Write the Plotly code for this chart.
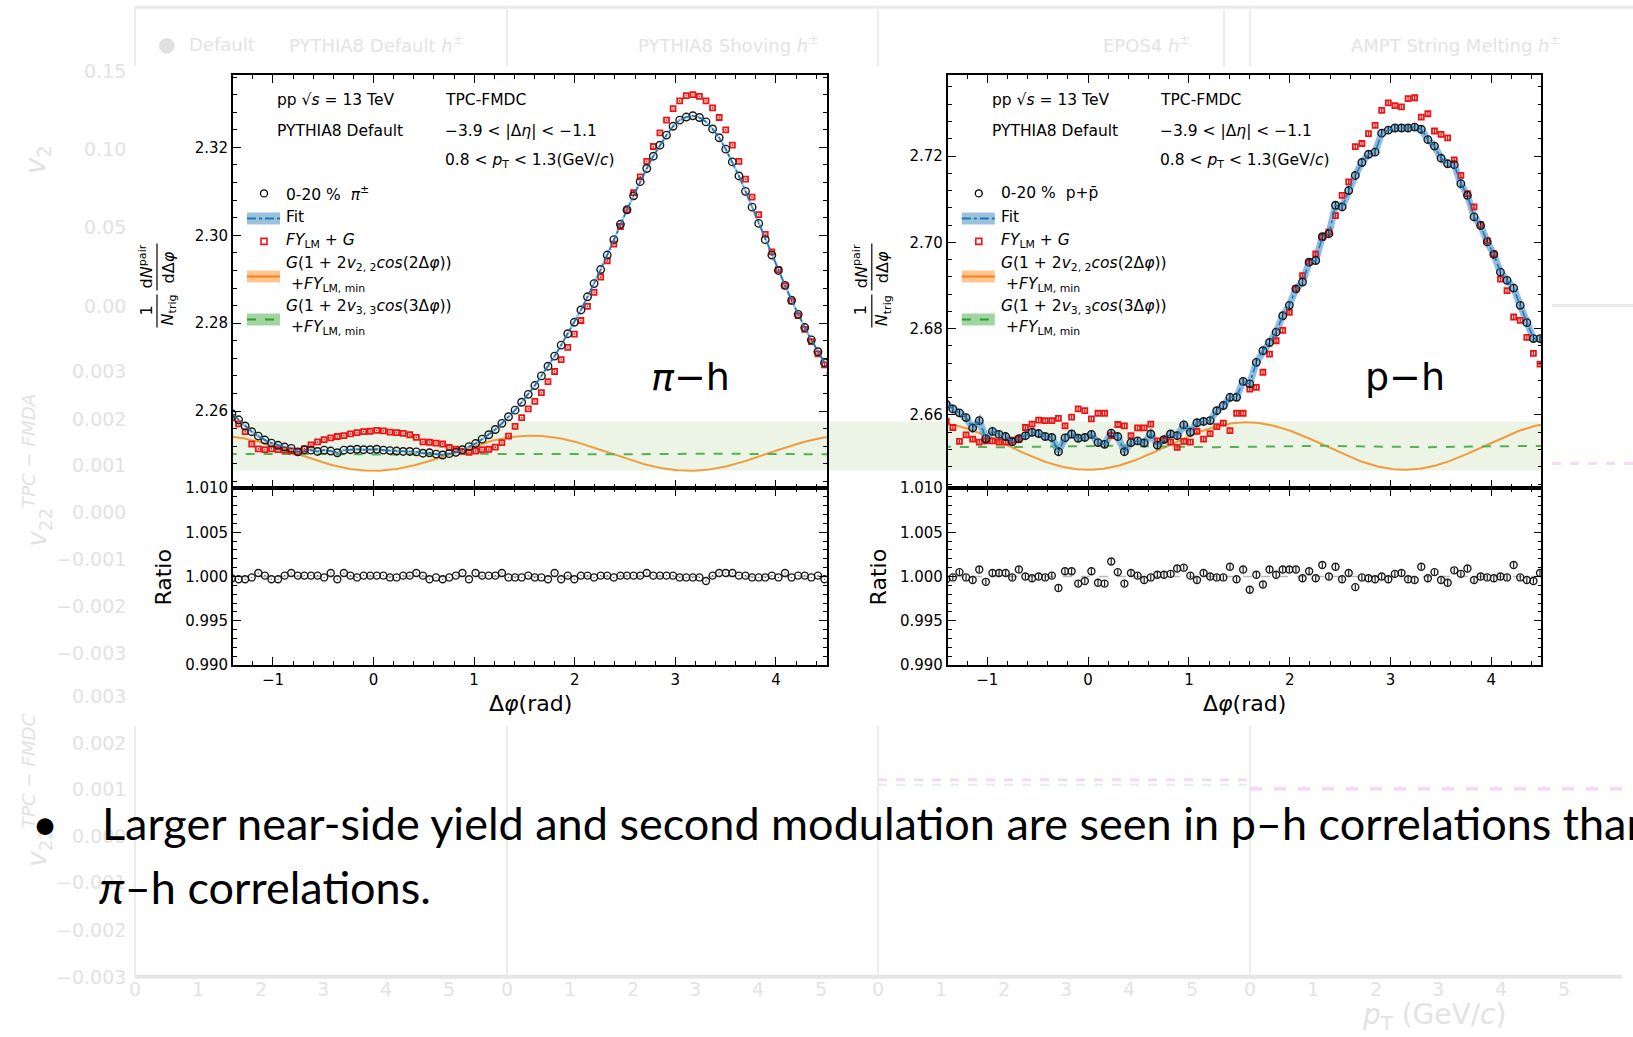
import numpy as np
import plotly.graph_objects as go

W, H = 1633, 1037

# ---------------- data ----------------
bin_width = 2 * np.pi / 96
dphi = -np.pi / 2 + (np.arange(2, 94) + 0.5) * bin_width   # bin centres

pi_yield = [
    2.2594, 2.2580, 2.2566, 2.2553, 2.2543, 2.2534, 2.2527, 2.2522, 2.2518, 2.2515,
    2.2507, 2.2512, 2.2511, 2.2508, 2.2511, 2.2509, 2.2505, 2.2511, 2.2512, 2.2513,
    2.2512, 2.2512, 2.2513, 2.2511, 2.2510, 2.2509, 2.2508, 2.2508, 2.2507, 2.2504,
    2.2505, 2.2502, 2.2500, 2.2503, 2.2506, 2.2512, 2.2519, 2.2526, 2.2536, 2.2546,
    2.2558, 2.2572, 2.2587, 2.2602, 2.2620, 2.2638, 2.2658, 2.2680, 2.2702, 2.2725,
    2.2750, 2.2776, 2.2802, 2.2830, 2.2860, 2.2890, 2.2922, 2.2955, 2.2990, 2.3025,
    2.3058, 2.3090, 2.3122, 2.3152, 2.3180, 2.3205, 2.3228, 2.3248, 2.3262, 2.3269,
    2.3272, 2.3268, 2.3258, 2.3242, 2.3222, 2.3196, 2.3167, 2.3135, 2.3100, 2.3064,
    2.3027, 2.2990, 2.2955, 2.2920, 2.2886, 2.2852, 2.2820, 2.2790, 2.2762, 2.2735,
    2.2710, 2.2686]
pi_fylm_g = [
    2.2585, 2.2571, 2.2553, 2.2525, 2.2514, 2.2512, 2.2514, 2.2512, 2.2511, 2.2509,
    2.2507, 2.2514, 2.2523, 2.2530, 2.2535, 2.2539, 2.2542, 2.2544, 2.2548, 2.2551,
    2.2553, 2.2554, 2.2556, 2.2555, 2.2552, 2.2551, 2.2549, 2.2546, 2.2540, 2.2530,
    2.2529, 2.2527, 2.2525, 2.2517, 2.2513, 2.2508, 2.2506, 2.2509, 2.2512, 2.2513,
    2.2518, 2.2528, 2.2543, 2.2565, 2.2585, 2.2605, 2.2622, 2.2642, 2.2667, 2.2690,
    2.2717, 2.2745, 2.2775, 2.2806, 2.2838, 2.2870, 2.2905, 2.2942, 2.2980, 2.3020,
    2.3058, 2.3097, 2.3133, 2.3168, 2.3202, 2.3233, 2.3262, 2.3288, 2.3306, 2.3318,
    2.3320, 2.3316, 2.3306, 2.3290, 2.3268, 2.3240, 2.3205, 2.3168, 2.3128, 2.3087,
    2.3047, 2.3002, 2.2962, 2.2922, 2.2885, 2.2850, 2.2817, 2.2786, 2.2758, 2.2730,
    2.2705, 2.2680]
pi_ratio = [
    0.9998,
    0.9997, 0.9997, 0.9999, 1.0004, 1.0001, 0.9997, 0.9997, 1.0001, 1.0004, 1.0001,
    1.0001, 1.0001, 1.0001, 0.9999, 1.0004, 0.9997, 1.0004, 1.0001, 0.9999, 1.0001,
    1.0001, 1.0001, 1.0001, 0.9999, 0.9999, 1.0001, 1.0001, 1.0004, 1.0001, 0.9997,
    0.9999, 0.9997, 0.9999, 1.0001, 1.0004, 0.9997, 1.0004, 1.0001, 1.0001, 1.0001,
    1.0004, 0.9999, 0.9999, 0.9999, 1.0001, 0.9999, 0.9999, 0.9997, 1.0004, 0.9997,
    1.0001, 0.9997, 1.0001, 1.0001, 0.9999, 1.0001, 1.0001, 0.9999, 1.0001, 1.0001,
    1.0001, 1.0001, 1.0004, 1.0001, 1.0001, 1.0001, 1.0001, 0.9999, 0.9999, 0.9999,
    0.9999, 0.9995, 1.0001, 1.0004, 1.0004, 1.0004, 1.0001, 1.0001, 0.9999, 0.9999,
    0.9999, 1.0001, 0.9999, 1.0004, 0.9999, 1.0001, 1.0001, 0.9999, 1.0001, 0.9997,
    0.9999]

p_yield = [
    2.6625, 2.6614, 2.6605, 2.6594, 2.6570, 2.6587, 2.6545, 2.6562, 2.6555, 2.6550,
    2.6538, 2.6545, 2.6552, 2.6560, 2.6557, 2.6550, 2.6548, 2.6515, 2.6547, 2.6556,
    2.6546, 2.6548, 2.6555, 2.6536, 2.6532, 2.6558, 2.6550, 2.6515, 2.6536, 2.6540,
    2.6535, 2.6556, 2.6530, 2.6543, 2.6556, 2.6552, 2.6577, 2.6560, 2.6582, 2.6585,
    2.6587, 2.6610, 2.6622, 2.6641, 2.6641, 2.6678, 2.6672, 2.6722, 2.6749, 2.6768,
    2.6792, 2.6830, 2.6854, 2.6892, 2.6908, 2.6954, 2.6958, 2.7013, 2.7020, 2.7086,
    2.7082, 2.7120, 2.7155, 2.7185, 2.7204, 2.7209, 2.7253, 2.7260, 2.7265, 2.7265,
    2.7265, 2.7267, 2.7262, 2.7238, 2.7223, 2.7195, 2.7182, 2.7180, 2.7136, 2.7109,
    2.7059, 2.7039, 2.7001, 2.6972, 2.6931, 2.6912, 2.6894, 2.6854, 2.6814, 2.6777,
    2.6777, 2.6760]
p_fylm_g = [
    2.6585, 2.6571, 2.6539, 2.6554, 2.6544, 2.6537, 2.6540, 2.6540, 2.6537, 2.6537,
    2.6542, 2.6544, 2.6571, 2.6579, 2.6588, 2.6587, 2.6587, 2.6592, 2.6575, 2.6595,
    2.6614, 2.6610, 2.6591, 2.6604, 2.6604, 2.6552, 2.6578, 2.6575, 2.6552, 2.6570,
    2.6570, 2.6579, 2.6540, 2.6543, 2.6537, 2.6525, 2.6539, 2.6537, 2.6562, 2.6544,
    2.6557, 2.6573, 2.6581, 2.6564, 2.6604, 2.6604, 2.6660, 2.6664, 2.6699, 2.6741,
    2.6772, 2.6796, 2.6838, 2.6892, 2.6923, 2.6954, 2.6973, 2.7012, 2.7024, 2.7062,
    2.7109, 2.7140, 2.7222, 2.7229, 2.7252, 2.7271, 2.7306, 2.7323, 2.7317, 2.7314,
    2.7333, 2.7335, 2.7290, 2.7298, 2.7258, 2.7250, 2.7242, 2.7191, 2.7155, 2.7113,
    2.7082, 2.7041, 2.7004, 2.6973, 2.6915, 2.6888, 2.6827, 2.6819, 2.6780, 2.6743,
    2.6718, 2.6700]
p_ratio = [
    0.9997, 0.9999, 1.0005, 0.9999, 0.9996, 1.0008, 0.9994, 1.0004, 1.0004, 1.0004,
    0.9999, 1.0008, 1.0000, 0.9998, 1.0000, 0.9999, 1.0001, 0.9987, 1.0006, 1.0006,
    0.9992, 0.9995, 1.0006, 0.9993, 0.9992, 1.0017, 1.0005, 0.9992, 1.0004, 1.0001,
    0.9996, 0.9999, 1.0002, 1.0002, 1.0003, 1.0009, 1.0010, 1.0001, 0.9996, 1.0004,
    1.0000, 0.9999, 0.9999, 1.0011, 0.9997, 1.0008, 0.9985, 1.0002, 0.9991, 1.0008,
    1.0002, 1.0008, 1.0008, 1.0008, 0.9998, 1.0006, 0.9998, 1.0013, 1.0000, 1.0011,
    0.9997, 1.0004, 0.9988, 0.9999, 0.9998, 0.9997, 1.0000, 0.9997, 1.0003, 1.0004,
    0.9997, 0.9996, 1.0011, 0.9998, 1.0005, 0.9996, 0.9993, 1.0007, 1.0003, 1.0009,
    0.9996, 1.0000, 0.9999, 0.9998, 1.0000, 0.9999, 1.0013, 0.9999, 0.9996, 0.9995,
    1.0004, 1.0000]

pi_err, pi_red_err = 0.00010, 0.00020
p_err, p_red_err, p_ratio_err = 0.0008, 0.0005, 0.0003

# modulation curves G(1+2v cos(nΔφ)) + FY_LM,min : (mean, amplitude)
pi_v2 = (2.2504, -0.0040)
pi_v3 = (2.2502, -0.0001)
p_v2 = (2.6528, -0.0055)
p_v3 = (2.6527, 0.0002)

assert all(len(a) == len(dphi) for a in [pi_yield, pi_fylm_g, pi_ratio, p_yield, p_fylm_g, p_ratio])

phi_fine = np.linspace(-1.45, 4.56, 500)

# ---------------- helpers (pixel -> paper fraction) ----------------
TOP, PAPER_H = 8.7, 1018.5   # measured vertical mapping of the paper area

def PX(x): return x / W
def PY(y): return 1 - (y - TOP) / PAPER_H

BLACK = "black"
ORANGE = "#f39b3c"
GREEN = "#55b155"
BLUE = "#1f77b4"
RED = "#ee1414"
DARK = "#1a1a1a"

fig = go.Figure()
annotations, shapes = [], []

def ann(text, x, y, size, xa="left", ya="middle", color=BLACK, fam="DejaVu Sans", ang=0):
    annotations.append(dict(text=text, x=PX(x), y=PY(y), xref="paper", yref="paper",
                            xanchor=xa, yanchor=ya, showarrow=False, textangle=ang,
                            font=dict(family=fam, size=size, color=color)))

def line(x0, y0, x1, y1, color, width, dash="solid", layer="above"):
    shapes.append(dict(type="line", xref="paper", yref="paper", x0=PX(x0), y0=PY(y0),
                       x1=PX(x1), y1=PY(y1), layer=layer,
                       line=dict(color=color, width=width, dash=dash)))

def rect(x0, y0, x1, y1, fill, lc=None, lw=0, layer="above"):
    shapes.append(dict(type="rect", xref="paper", yref="paper", x0=PX(x0), y0=PY(y0),
                       x1=PX(x1), y1=PY(y1), fillcolor=fill, layer=layer,
                       line=dict(color=lc or fill, width=lw)))

# ---------------- faint background slide ----------------
line(135, 7, 1633, 7, "#e9e9e9", 3, layer="below")
for xv in [135, 507, 878, 1224, 1250]:
    line(xv, 7, xv, 66, "#ececec", 2, layer="below")
for xv in [135, 507, 878, 1250]:
    line(xv, 725, xv, 976, "#ececec", 2, layer="below")
line(135, 976, 1622, 976, "#e6e6e6", 4, layer="below")
line(878, 779, 1250, 779, "#f3dcf3", 3, "dash", layer="below")
line(878, 784, 1250, 784, "#e2efe7", 2, "dash", layer="below")
line(1250, 788, 1625, 788, "#f3dcf3", 4, "dash", layer="below")
line(1552, 305, 1633, 305, "#eaeaea", 3, layer="below")
line(1552, 463, 1633, 463, "#f3dcf3", 3, "dash", layer="below")

ann("●", 166, 44, 20, xa="center", color="#e0e0e0")
ann("Default", 187, 44, 18, color="#e3e3e3")
ann("PYTHIA8 Default <i>h</i><sup>±</sup>", 287, 44, 18, color="#e3e3e3")
ann("PYTHIA8 Shoving <i>h</i><sup>±</sup>", 821, 44, 18, xa="right", color="#e3e3e3")
ann("EPOS4 <i>h</i><sup>±</sup>", 1192, 44, 18, xa="right", color="#e3e3e3")
ann("AMPT String Melting <i>h</i><sup>±</sup>", 1562, 44, 18, xa="right", color="#e3e3e3")
bg_labels = [("0.15", 71), ("0.10", 149), ("0.05", 227), ("0.00", 306),
             ("0.003", 371), ("0.002", 418), ("0.001", 464), ("0.000", 511),
             ("−0.001", 558), ("−0.002", 605), ("−0.003", 652),
             ("0.003", 695), ("0.002", 742), ("0.001", 788), ("0.000", 835),
             ("−0.001", 881), ("−0.002", 929), ("−0.003", 976)]
for t, yv in bg_labels:
    ann(t, 128, yv, 19, xa="right", color="#e2e2e2")
ann("<i>v</i><sub>2</sub>", 37, 160, 28, xa="center", color="#e2e2e2", ang=-90)
ann("<i>v</i><sub>22</sub><sup><i>TPC − FMDA</i></sup>", 37, 470, 26, xa="center", color="#e2e2e2", ang=-90)
ann("<i>v</i><sub>22</sub><sup><i>TPC − FMDC</i></sup>", 37, 790, 26, xa="center", color="#e2e2e2", ang=-90)
for s in [135, 507, 878, 1250]:
    for k in range(6):
        ann(str(k), s + 62.8 * k, 988, 19, xa="center", color="#e3e3e3")
ann("<i>p</i><sub>T</sub> (GeV/<i>c</i>)", 1434, 1016, 28, xa="center", color="#e3e3e3")

# highlight band across both panels
rect(233, 421, 1541, 470, "#ecf4e5", layer="below")

# ---------------- axes ----------------
xL = [233 / W, 827 / W]
xR = [947.8 / W, 1541.4 / W]
y_main = [PY(487.4), PY(75)]
y_ratio = [PY(664.5), PY(487.4)]

def axis(**kw):
    base = dict(showline=True, linecolor=BLACK, linewidth=1.8, mirror="allticks",
                ticks="inside", ticklen=8, tickwidth=1.3, tickcolor=BLACK,
                showgrid=False, zeroline=False,
                tickfont=dict(family="DejaVu Sans", size=15, color=BLACK))
    base.update(kw)
    return base

xminor = dict(ticks="inside", ticklen=4, tickwidth=1, tickcolor=BLACK, dtick=0.2, tick0=0)
ratio_ticks = dict(tickvals=[0.99, 0.995, 1.0, 1.005, 1.01],
                   ticktext=["0.990", "0.995", "1.000", "1.005", "1.010"],
                   range=[0.98999, 1.01001],
                   minor=dict(ticks="inside", ticklen=4, tickwidth=1, tickcolor=BLACK, dtick=0.001, tick0=0.99))

layout_axes = dict(
    xaxis=axis(domain=xL, anchor="y", range=[-1.397, 4.508], dtick=1, tick0=0, minor=xminor, showticklabels=False),
    yaxis=axis(domain=y_main, anchor="x", range=[2.2425, 2.3364], tickvals=[2.26, 2.28, 2.30, 2.32],
               ticktext=["2.26", "2.28", "2.30", "2.32"],
               minor=dict(ticks="inside", ticklen=4, tickwidth=1, tickcolor=BLACK, dtick=0.004, tick0=2.26)),
    xaxis2=axis(domain=xL, anchor="y2", range=[-1.397, 4.508], dtick=1, tick0=0, minor=xminor),
    yaxis2=axis(domain=y_ratio, anchor="x2", **ratio_ticks),
    xaxis3=axis(domain=xR, anchor="y3", range=[-1.392, 4.497], dtick=1, tick0=0, minor=xminor, showticklabels=False),
    yaxis3=axis(domain=y_main, anchor="x3", range=[2.6431, 2.7387], tickvals=[2.66, 2.68, 2.70, 2.72],
                ticktext=["2.66", "2.68", "2.70", "2.72"],
                minor=dict(ticks="inside", ticklen=4, tickwidth=1, tickcolor=BLACK, dtick=0.004, tick0=2.66)),
    xaxis4=axis(domain=xR, anchor="y4", range=[-1.392, 4.497], dtick=1, tick0=0, minor=xminor),
    yaxis4=axis(domain=y_ratio, anchor="x4", **ratio_ticks),
)

# ---------------- traces ----------------
def panel(xa, ya, xr, yr, yld, yerr, red, rerr, ratio, ratio_err, v2, v3, wide_band, band_col):
    fig.add_trace(go.Scatter(x=phi_fine, y=v2[0] + v2[1] * np.cos(2 * phi_fine), mode="lines",
                             line=dict(color=ORANGE, width=2), xaxis=xa, yaxis=ya))
    fig.add_trace(go.Scatter(x=phi_fine, y=v3[0] + v3[1] * np.cos(3 * phi_fine), mode="lines",
                             line=dict(color=GREEN, width=2, dash="dash"), xaxis=xa, yaxis=ya))
    fig.add_trace(go.Scatter(x=dphi, y=yld, mode="lines",
                             line=dict(color=band_col, width=wide_band), xaxis=xa, yaxis=ya))
    fig.add_trace(go.Scatter(x=dphi, y=red, mode="markers",
                             marker=dict(symbol="square-open", size=5, color=RED, line=dict(width=1.8, color=RED)),
                             error_y=dict(type="constant", value=rerr, thickness=1.3, width=0, color=RED),
                             xaxis=xa, yaxis=ya))
    fig.add_trace(go.Scatter(x=dphi, y=yld, mode="markers",
                             marker=dict(symbol="circle-open", size=7.5, color=DARK, line=dict(width=1.4, color=DARK)),
                             error_y=dict(type="constant", value=yerr, thickness=1.2, width=0, color=DARK),
                             xaxis=xa, yaxis=ya))
    fig.add_trace(go.Scatter(x=dphi, y=yld, mode="lines",
                             line=dict(color=BLUE, width=1.6, dash="dashdot"), xaxis=xa, yaxis=ya))
    fig.add_trace(go.Scatter(x=[-1.5, 4.6], y=[1.0, 1.0], mode="lines",
                             line=dict(color="#b8b8b8", width=1.5, dash="dash"), xaxis=xr, yaxis=yr))
    fig.add_trace(go.Scatter(x=dphi, y=ratio, mode="markers",
                             marker=dict(symbol="circle-open", size=7, color=DARK, line=dict(width=1.4, color=DARK)),
                             error_y=dict(type="constant", value=ratio_err, thickness=1.2, width=0, color=DARK),
                             xaxis=xr, yaxis=yr))

panel("x", "y", "x2", "y2", pi_yield, pi_err, pi_fylm_g, pi_red_err, pi_ratio, 0.00005,
      pi_v2, pi_v3, 2.5, "rgba(60,140,200,0.45)")
panel("x3", "y3", "x4", "y4", p_yield, p_err, p_fylm_g, p_red_err, p_ratio, p_ratio_err,
      p_v2, p_v3, 7, "rgba(70,145,205,0.6)")

# ---------------- panel decorations ----------------
for dx, species, tag in [(0, "0-20 %  <i>π</i><sup>±</sup>", "<i>π</i>−h"),
                         (714.8, "0-20 %  p+p̄", "p−h")]:
    ann("pp √<i>s</i> = 13 TeV", 275 + dx, 100, 15.5)
    ann("TPC-FMDC", 443 + dx, 100, 15.5)
    ann("PYTHIA8 Default", 275 + dx, 131, 15.5)
    ann("−3.9 < |Δ<i>η</i>| < −1.1", 443 + dx, 131, 15.5)
    ann("0.8 < <i>p</i><sub>T</sub> < 1.3(GeV/<i>c</i>)", 443 + dx, 161, 15.5)
    # legend
    shapes.append(dict(type="circle", xref="paper", yref="paper", x0=PX(260.5 + dx), x1=PX(267.5 + dx),
                       y0=PY(196.5), y1=PY(189.5), line=dict(color=BLACK, width=1.3)))
    ann(species, 284 + dx, 193, 15.5)
    rect(247 + dx, 212, 280 + dx, 224, "rgba(31,119,180,0.45)")
    line(247 + dx, 218, 280 + dx, 218, BLUE, 2, "dashdot")
    ann("Fit", 284 + dx, 217, 15.5)
    rect(261 + dx, 238, 267 + dx, 244, "white", RED, 1.6)
    ann("<i>FY</i><sub>LM</sub> + <i>G</i>", 284 + dx, 241, 15.5)
    rect(247 + dx, 270, 280 + dx, 282, "rgba(255,127,14,0.45)")
    line(247 + dx, 276, 280 + dx, 276, "#ff7f0e", 2)
    ann("<i>G</i>(1 + 2<i>v</i><sub>2, 2</sub><i>cos</i>(2Δ<i>φ</i>))", 284 + dx, 264, 15.5)
    ann("+<i>FY</i><sub>LM, min</sub>", 289 + dx, 285, 15.5)
    rect(247 + dx, 313, 280 + dx, 325, "rgba(44,160,44,0.45)")
    line(247 + dx, 319, 280 + dx, 319, "#2ca02c", 2, "dash")
    ann("<i>G</i>(1 + 2<i>v</i><sub>3, 3</sub><i>cos</i>(3Δ<i>φ</i>))", 284 + dx, 307, 15.5)
    ann("+<i>FY</i><sub>LM, min</sub>", 289 + dx, 328, 15.5)
    # big tag
    ann(tag, 690 + dx, 377, 38, xa="center")
    # y titles
    ann("1", 146 + dx, 310, 16, xa="center", ang=-90)
    ann("<i>N</i><sub>trig</sub>", 168 + dx, 310, 16, xa="center", ang=-90)
    ann("d<i>N</i><sup>pair</sup>", 146 + dx, 266, 16, xa="center", ang=-90)
    ann("dΔ<i>φ</i>", 168 + dx, 267, 16, xa="center", ang=-90)
    line(157 + dx, 294, 157 + dx, 327, BLACK, 1.2)
    line(157 + dx, 243, 157 + dx, 290, BLACK, 1.2)
    ann("Ratio", 164 + dx, 577, 22, xa="center", ang=-90)
    ann("Δ<i>φ</i>(rad)", 530 + dx, 703, 22, xa="center")

# ---------------- bullet text ----------------
ann("•", 45, 822, 45, xa="center", fam="Lato")
ann("Larger near-side yield and second modulation are seen in p–h correlations than",
    100, 822, 45, fam="Lato")
ann("<i>π</i>–h correlations.", 97, 886, 45, fam="Lato")

fig.update_layout(
    width=W, height=H, autosize=False,
    margin=dict(l=0, r=0, t=0, b=0),
    paper_bgcolor="white", plot_bgcolor="rgba(0,0,0,0)",
    showlegend=False,
    annotations=annotations, shapes=shapes,
    **layout_axes,
)

fig.write_html("out.html",
               post_script="document.body.style.margin='0';document.body.style.overflow='hidden';")
